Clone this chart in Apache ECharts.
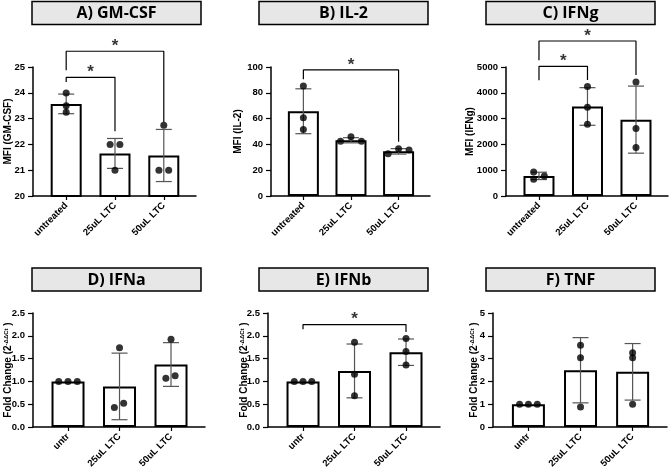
<!DOCTYPE html>
<html>
<head>
<meta charset="utf-8">
<script src="https://cdn.jsdelivr.net/npm/echarts@6/dist/echarts.min.js"></script>
<style>html,body{margin:0;padding:0;background:#fff}#chart{width:669px;height:468px}</style>
</head>
<body>
<div id="chart"></div>
<script>
// cytokine panels, bars = mean, whiskers = SD, dots = replicates
var chartDom = document.getElementById('chart');
var myChart = echarts.init(chartDom);

var groupsLong = ['untreated', '25uL LTC', '50uL LTC'];
var groupsShort = ['untr', '25uL LTC', '50uL LTC'];
var titles = ['A) GM-CSF', 'B) IL-2', 'C) IFNg', 'D) IFNa', 'E) IFNb', 'F) TNF'];
var yNames = ['MFI (GM-CSF)', 'MFI (IL-2)', 'MFI (IFNg)'];
var foldName = '{a|Fold Change (2}{s|-\u0394\u0394Ct}{a| )}';

// A) GM-CSF
var gmcsfMean = [23.57, 21.65, 21.57];
var gmcsfSD = [0.38, 0.58, 1.01];
var gmcsfPts = [[23.99, 23.5, 23.25], [22.0, 22.0, 21.0], [22.74, 21.0, 21.0]];
var gmcsfSig = [[0, 1, 24.60, 24.42, 22.51], [0, 2, 25.61, 24.87, 22.87]];

// B) IL-2
var il2Mean = [65.7, 43.2, 34.6];
var il2SD = [17.4, 2.0, 2.1];
var il2Pts = [[85.3, 60.6, 51.5], [42.4, 46.0, 42.4], [32.8, 36.7, 35.7]];
var il2Sig = [[0, 2, 97.7, 90.5, 42.0]];

// C) IFNg
var ifngMean = [780, 3470, 2960];
var ifngSD = [142, 729, 1300];
var ifngPts = [[928, 645, 773], [4241, 3442, 2784], [4421, 2617, 1882]];
var ifngSig = [[0, 1, 5027, 4486, 4500], [0, 2, 6007, 5259, 4692]];

// D) IFNa
var ifnaMean = [1.0, 0.89, 1.37];
var ifnaSD = [0, 0.73, 0.48];
var ifnaPts = [[1, 1, 1], [1.737, 0.523, 0.429], [1.926, 1.126, 1.068]];

// E) IFNb
var ifnbMean = [1.0, 1.23, 1.64];
var ifnbSD = [0, 0.59, 0.29];
var ifnbPts = [[1, 1, 1], [1.86, 1.155, 0.683], [1.94, 1.657, 1.359]];
var ifnbSig = [[0, 2, 2.246, 2.144, 2.086]];

// F) TNF
var tnfMean = [1.0, 2.49, 2.42];
var tnfSD = [0, 1.43, 1.24];
var tnfPts = [[1, 1, 1], [3.59, 3.04, 0.872], [3.256, 3.04, 1.0]];

var FONT = '"Liberation Sans", Arial, sans-serif';

var panels = [
  {mean: gmcsfMean, sd: gmcsfSD, pts: gmcsfPts, sig: gmcsfSig, cats: groupsLong, name: yNames[0],
   yMin: 20, yMax: 25, step: 1, dec: 0, left: 33, top: 67, width: 163, height: 129, gap: 20, barW: 31,
   jit: [[0, 0, 0], [-0.1, 0.1, 0], [0, -0.1, 0.1]], box: [32, 1.5]},
  {mean: il2Mean, sd: il2SD, pts: il2Pts, sig: il2Sig, cats: groupsLong, name: yNames[1],
   yMin: 0, yMax: 100, step: 20, dec: 0, left: 271, top: 67, width: 159, height: 129, gap: 28, barW: 31,
   jit: [[0, 0, 0], [-0.22, 0, 0.22], [-0.22, 0, 0.22]], box: [259, 1.5]},
  {mean: ifngMean, sd: ifngSD, pts: ifngPts, sig: ifngSig, cats: groupsLong, name: yNames[2],
   yMin: 0, yMax: 5000, step: 1000, dec: 0, left: 506, top: 67, width: 162, height: 129, gap: 31, barW: 31,
   jit: [[-0.11, -0.11, 0.11], [0, 0, 0], [0, 0, 0]], box: [486, 1.5]},
  {mean: ifnaMean, sd: ifnaSD, pts: ifnaPts, sig: [], cats: groupsShort, name: foldName,
   yMin: 0, yMax: 2.5, step: 0.5, dec: 1, left: 33, top: 313, width: 172, height: 114, gap: 20, barW: 33,
   jit: [[-0.18, 0, 0.18], [0, 0.08, -0.1], [0, 0.08, -0.1]], box: [32, 268]},
  {mean: ifnbMean, sd: ifnbSD, pts: ifnbPts, sig: ifnbSig, cats: groupsShort, name: foldName,
   yMin: 0, yMax: 2.5, step: 0.5, dec: 1, left: 268, top: 313, width: 172, height: 114, gap: 19, barW: 33,
   jit: [[-0.17, 0, 0.17], [0, 0, 0], [0, 0, 0]], box: [259, 268]},
  {mean: tnfMean, sd: tnfSD, pts: tnfPts, sig: [], cats: groupsShort, name: foldName,
   yMin: 0, yMax: 5, step: 1, dec: 0, left: 493, top: 313, width: 174, height: 114, gap: 14, barW: 33,
   jit: [[-0.17, 0, 0.17], [0, 0, 0], [0, 0, 0]], box: [486, 268]}
];

var grids = [], xAxes = [], yAxes = [], series = [], graphics = [];

panels.forEach(function (p, i) {
  grids.push({left: p.left, top: p.top, width: p.width, height: p.height, outerBoundsMode: 'none'});

  xAxes.push({
    gridIndex: i, type: 'value', min: -0.68, max: 2.66,
    splitLine: {show: false},
    axisLine: {show: true, onZero: false, lineStyle: {color: '#000', width: 1.5}},
    axisTick: {show: true, customValues: [0, 1, 2], length: 4, lineStyle: {color: '#000', width: 1.2}},
    axisLabel: {
      customValues: [0, 1, 2], rotate: 45, margin: 8,
      formatter: function (v) { return p.cats[Math.round(v)]; },
      color: '#000', fontWeight: 'bold', fontSize: 9.5, fontFamily: FONT
    }
  });

  yAxes.push({
    gridIndex: i, type: 'value', min: p.yMin, max: p.yMax, interval: p.step,
    splitLine: {show: false},
    axisLine: {show: true, onZero: false, lineStyle: {color: '#000', width: 1.5}},
    axisTick: {show: true, length: 5, lineStyle: {color: '#000', width: 1.2}},
    axisLabel: {
      margin: 8, color: '#000', fontWeight: 'bold', fontSize: 9.5, fontFamily: FONT,
      formatter: function (v) { return v.toFixed(p.dec); }
    },
    name: p.name, nameLocation: 'middle', nameGap: p.gap, nameMoveOverlap: false,
    nameTextStyle: {
      color: '#000', fontWeight: 'bold', fontSize: 10, fontFamily: FONT,
      rich: {
        a: {color: '#000', fontWeight: 'bold', fontSize: 10, fontFamily: FONT},
        s: {color: '#000', fontWeight: 'bold', fontSize: 6, fontFamily: FONT, verticalAlign: 'top'}
      }
    }
  });

  series.push({
    type: 'bar', xAxisIndex: i, yAxisIndex: i, barWidth: p.barW, z: 2,
    data: p.mean.map(function (m, k) { return [k, m]; }),
    itemStyle: {color: '#fff', borderColor: '#000', borderWidth: 2}
  });

  series.push({
    type: 'custom', xAxisIndex: i, yAxisIndex: i, z: 3,
    data: p.mean.map(function (m, k) { return [k, m, p.sd[k]]; }),
    renderItem: function (params, api) {
      var x = api.value(0), m = api.value(1), s = api.value(2);
      if (!s) return null;
      var hi = api.coord([x, m + s]), lo = api.coord([x, m - s]);
      var w = 8;
      var st = {stroke: '#555', lineWidth: 1.2};
      return {type: 'group', children: [
        {type: 'line', shape: {x1: hi[0], y1: hi[1], x2: lo[0], y2: lo[1]}, style: st},
        {type: 'line', shape: {x1: hi[0] - w, y1: hi[1], x2: hi[0] + w, y2: hi[1]}, style: st},
        {type: 'line', shape: {x1: lo[0] - w, y1: lo[1], x2: lo[0] + w, y2: lo[1]}, style: st}
      ]};
    }
  });

  var dots = [];
  p.pts.forEach(function (grp, k) {
    grp.forEach(function (v, n) { dots.push([k + p.jit[k][n], v]); });
  });
  series.push({
    type: 'scatter', xAxisIndex: i, yAxisIndex: i, z: 4,
    data: dots, symbolSize: 7, itemStyle: {color: '#000'}
  });

  p.sig.forEach(function (s) {
    series.push({
      type: 'line', xAxisIndex: i, yAxisIndex: i, clip: false, z: 5,
      symbol: 'none', lineStyle: {color: '#000', width: 1.2},
      data: [[s[0], s[3]], [s[0], s[2]], [s[1], s[2]], [s[1], s[4]]]
    });
    series.push({
      type: 'scatter', xAxisIndex: i, yAxisIndex: i, clip: false, z: 5,
      symbolSize: 0, data: [[(s[0] + s[1]) / 2, s[2]]],
      label: {show: true, position: 'inside', offset: [0, -5], formatter: '*',
              color: '#000', fontWeight: 'bold', fontSize: 17, fontFamily: FONT}
    });
  });

  graphics.push({
    type: 'rect', shape: {x: p.box[0], y: p.box[1], width: 169, height: 23},
    style: {fill: '#e7e7e7', stroke: '#000', lineWidth: 1.5}
  });
  graphics.push({
    type: 'text', x: p.box[0] + 84.5, y: p.box[1] + 12,
    style: {text: titles[i], font: 'bold 16px "Open Sans"', fill: '#000',
            align: 'center', verticalAlign: 'middle', textAlign: 'center', textVerticalAlign: 'middle'}
  });
});

var option = {
  animation: false,
  backgroundColor: '#fff',
  grid: grids,
  xAxis: xAxes,
  yAxis: yAxes,
  series: series,
  graphic: {elements: graphics}
};

option && myChart.setOption(option);
</script>
</body>
</html>
